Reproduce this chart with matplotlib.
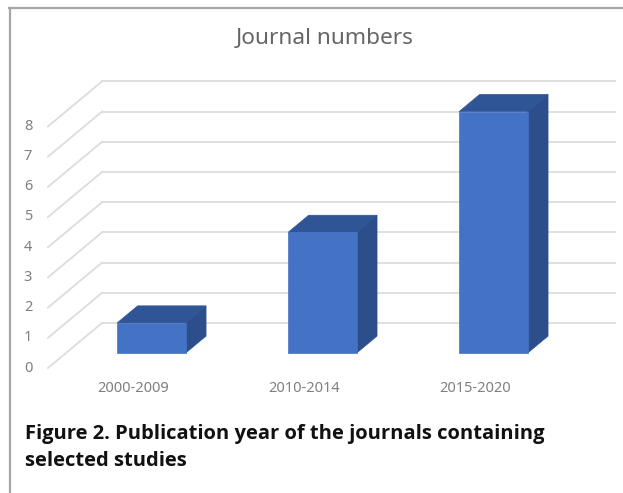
#!/usr/bin/env python3
import matplotlib

matplotlib.use("Agg")
import matplotlib.pyplot as plt
from matplotlib.lines import Line2D
from matplotlib.patches import Polygon


CATEGORIES = ["2000-2009", "2010-2014", "2015-2020"]
JOURNALS = [1, 4, 8]
Y_TICKS = list(range(0, 9))
TITLE = "Journal numbers"
CAPTION = ["Figure 2. Publication year of the journals containing", "selected studies"]

W, H, DPI = 623, 493, 100

# pixel layout of the excel-like oblique 3d box
CAT_PX = 171.0  # px per category
VAL_PX = 30.2  # px per unit
X0_PX = 48.0  # left edge of the floor (front), px from left
Y0_PX = 368.0  # value 0 on the front edge, px from top
DEPTH_PX = (54.0, 45.0)  # front -> back wall shift

BAR_W = 0.4
BAR_D = (0.33, 0.71)

FRONT = "#4472c4"
TOP = "#2f5597"
SIDE = "#2c4f8c"
GRID = "#dcdcdc"
FRAME = "#a6a6a6"


def depth(x, y, d):
    dx = DEPTH_PX[0] / CAT_PX
    dy = DEPTH_PX[1] / VAL_PX
    return (x + d * dx, y + d * dy)


def draw_grid(ax, n):
    for v in Y_TICKS:
        front = depth(-0.5, v, 0)
        back_l = depth(-0.5, v, 1)
        back_r = depth(n - 0.5, v, 1)
        ax.plot([front[0], back_l[0]], [front[1], back_l[1]], color=GRID, lw=1.3, zorder=1)
        ax.plot([back_l[0], back_r[0]], [back_l[1], back_r[1]], color=GRID, lw=1.3, zorder=1)
        ax.text(-0.5 - 20 / CAT_PX, v, str(v), ha="center", va="center",
                fontsize=10.5, color="#808080", family="Noto Sans")


def draw_bar(ax, i, v):
    x0, x1 = i - BAR_W / 2, i + BAR_W / 2
    d0, d1 = BAR_D
    front = [depth(x0, 0, d0), depth(x1, 0, d0), depth(x1, v, d0), depth(x0, v, d0)]
    top = [depth(x0, v, d0), depth(x1, v, d0), depth(x1, v, d1), depth(x0, v, d1)]
    side = [depth(x1, 0, d0), depth(x1, v, d0), depth(x1, v, d1), depth(x1, 0, d1)]
    for pts, c in ((side, SIDE), (top, TOP), (front, FRONT)):
        ax.add_patch(Polygon(pts, closed=True, facecolor=c, edgecolor=c, lw=0.5, zorder=3))


def main():
    fig = plt.figure(figsize=(W / DPI, H / DPI), dpi=DPI)
    ax = fig.add_axes([0, 0, 1, 1])
    ax.set_xlim(-0.5 - X0_PX / CAT_PX, -0.5 + (W - X0_PX) / CAT_PX)
    ax.set_ylim(-(H - Y0_PX) / VAL_PX, Y0_PX / VAL_PX)
    ax.axis("off")

    n = len(CATEGORIES)
    draw_grid(ax, n)
    for i, (cat, v) in enumerate(zip(CATEGORIES, JOURNALS)):
        draw_bar(ax, i, v)
        ax.text(i, -20 / VAL_PX, cat, ha="center", va="center",
                fontsize=10.5, color="#808080", family="Noto Sans")

    fig.text(325 / W, 1 - 39 / H, TITLE, ha="center", va="center",
             fontsize=16.3, color="#666666", family="Noto Sans")
    for k, line in enumerate(CAPTION):
        fig.text(25 / W, 1 - (439 + 27.5 * k) / H, line, ha="left", va="baseline",
                 fontsize=14.5, fontweight="bold", color="#111111", family="Open Sans")

    # frame around the chart area (top and left edges only)
    fig.add_artist(Line2D([9 / W, 1], [1 - 7.5 / H, 1 - 7.5 / H], color=FRAME, lw=1.6))
    fig.add_artist(Line2D([9.5 / W, 9.5 / W], [0, 1 - 7.5 / H], color=FRAME, lw=1.6))

    fig.savefig("out.png", dpi=DPI)


if __name__ == "__main__":
    main()
